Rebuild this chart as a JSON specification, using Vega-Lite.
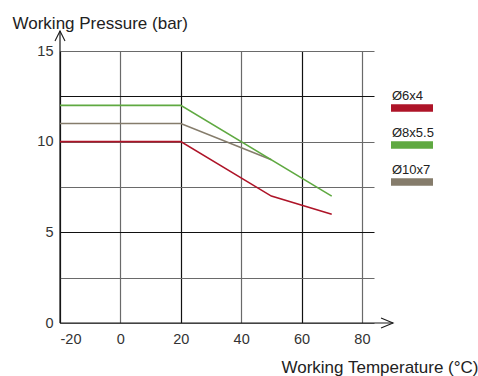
{
  "$schema": "https://vega.github.io/schema/vega-lite/v6.json",
  "width": 314,
  "height": 272,
  "autosize": {"type": "none"},
  "padding": {"left": 60, "top": 51, "right": 104, "bottom": 53},
  "background": "white",
  "config": {"font": "Liberation Sans", "view": {"stroke": null}},
  "layer": [
    {
      "data": {"values": [
        {"t": -20, "p": 0, "t2": -20, "p2": 16.1},
        {"t": -20, "p": 0, "t2": 90.3, "p2": 0}
      ]},
      "mark": {"type": "rule", "color": "#1a1a1a", "strokeWidth": 1.2, "clip": false},
      "encoding": {
        "x": {"field": "t", "type": "quantitative", "scale": {"domain": [-20, 84], "nice": false, "zero": false}},
        "x2": {"field": "t2"},
        "y": {"field": "p", "type": "quantitative", "scale": {"domain": [0, 15], "nice": false, "zero": false}},
        "y2": {"field": "p2"}
      }
    },
    {
      "data": {"values": [
        {"t": 90.3, "p": 0, "dir": "x"},
        {"t": -20, "p": 16.1, "dir": "y"}
      ]},
      "mark": {"type": "point", "filled": false, "stroke": "#1a1a1a", "strokeWidth": 1.1, "size": 100, "opacity": 1, "clip": false},
      "encoding": {
        "x": {"field": "t", "type": "quantitative", "scale": {"domain": [-20, 84], "nice": false, "zero": false}},
        "y": {"field": "p", "type": "quantitative", "scale": {"domain": [0, 15], "nice": false, "zero": false}},
        "shape": {"field": "dir", "type": "nominal", "scale": {"domain": ["x", "y"], "range": ["M-2.4,-1L0,0L-2.4,1", "M-1,2L0,0L1,2"]}, "legend": null}
      }
    },
    {
      "data": {"values": [
        {"series": "Ø10x7", "t": -20, "p": 11},
        {"series": "Ø10x7", "t": 20, "p": 11},
        {"series": "Ø10x7", "t": 50, "p": 9},
        {"series": "Ø6x4", "t": -20, "p": 10},
        {"series": "Ø6x4", "t": 20, "p": 10},
        {"series": "Ø6x4", "t": 50, "p": 7},
        {"series": "Ø6x4", "t": 70, "p": 6},
        {"series": "Ø8x5.5", "t": -20, "p": 12},
        {"series": "Ø8x5.5", "t": 20, "p": 12},
        {"series": "Ø8x5.5", "t": 70, "p": 7}
      ]},
      "mark": {"type": "line", "strokeWidth": 1.6, "clip": false},
      "encoding": {
        "x": {
          "field": "t", "type": "quantitative",
          "scale": {"domain": [-20, 84], "nice": false, "zero": false},
          "axis": {
            "values": [-20, 0, 20, 40, 60, 80],
            "labelExpr": "replace(datum.label, '−', '-')",
            "grid": true,
            "gridColor": {"condition": {"test": "datum.value === 20 || datum.value === 60 || datum.value === -20", "value": "#111111"}, "value": "#6a6a6a"},
            "gridWidth": 1.2,
            "domain": false,
            "ticks": false,
            "labelFontSize": 14.5,
            "labelColor": "#333333",
            "labelPadding": 9,
            "title": "Working Temperature (°C)",
            "titleFontSize": 17,
            "titleFontWeight": "normal",
            "titleColor": "#222222",
            "titleX": 418,
            "titleY": 49,
            "titleAlign": "right",
            "titleBaseline": "alphabetic"
          }
        },
        "y": {
          "field": "p", "type": "quantitative",
          "scale": {"domain": [0, 15], "nice": false, "zero": false},
          "axis": {
            "values": [0, 2.5, 5, 7.5, 10, 12.5, 15],
            "labelExpr": "datum.value % 5 === 0 ? datum.label : ''",
            "grid": true,
            "gridColor": {"condition": {"test": "datum.value === 12.5 || datum.value === 5", "value": "#111111"}, "value": "#6a6a6a"},
            "gridWidth": 1.2,
            "domain": false,
            "ticks": false,
            "labelFontSize": 14.5,
            "labelColor": "#333333",
            "labelPadding": 7,
            "title": "Working Pressure (bar)",
            "titleFontSize": 17,
            "titleFontWeight": "normal",
            "titleColor": "#222222",
            "titleAngle": 0,
            "titleX": -48,
            "titleY": -23,
            "titleAlign": "left",
            "titleBaseline": "alphabetic"
          }
        },
        "color": {
          "field": "series", "type": "nominal",
          "scale": {"domain": ["Ø6x4", "Ø8x5.5", "Ø10x7"], "range": ["#ae1428", "#5fa941", "#857c6b"]},
          "legend": {
            "orient": "none",
            "legendX": 327,
            "legendY": 36,
            "title": null,
            "padding": 0,
            "symbolType": "M-1,2.4H7.4",
            "symbolSize": 100,
            "symbolStrokeWidth": 7.5,
            "symbolOpacity": 1,
            "labelOffset": -13,
            "labelFontSize": 13,
            "labelColor": "#222222",
            "rowPadding": 1,
            "encode": {"symbols": {"update": {"strokeWidth": {"value": 7.5}}}}
          }
        }
      }
    }
  ]
}
